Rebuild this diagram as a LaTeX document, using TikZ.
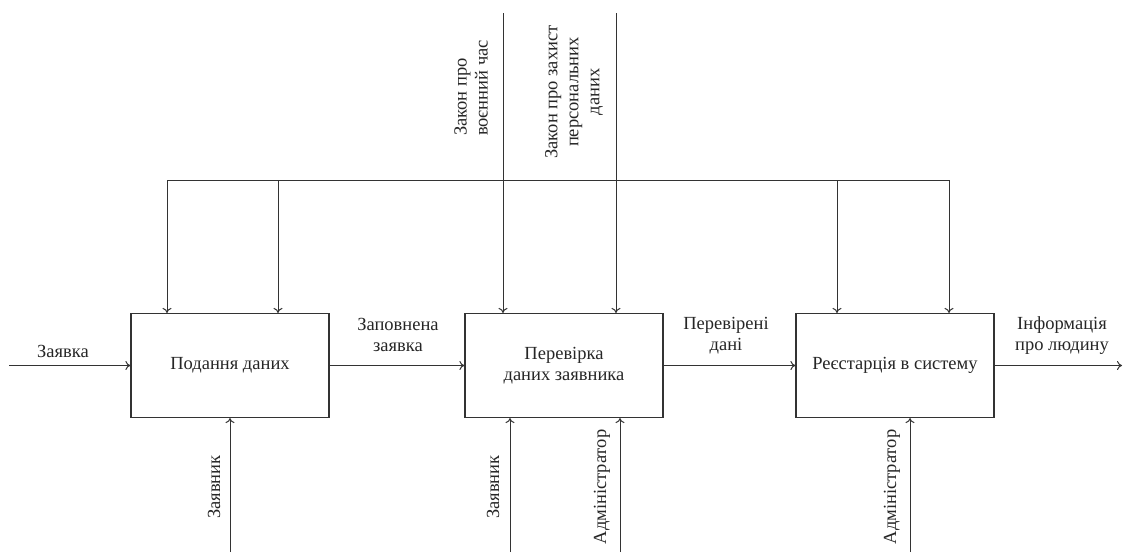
\documentclass[tikz,border=0pt]{standalone}
\usepackage{fontspec}
\setmainfont{Liberation Serif}
\usetikzlibrary{arrows.meta}
\begin{document}
\begin{tikzpicture}[x=1pt,y=-1pt,
  font=\rmfamily\fontsize{18.5}{21}\selectfont,
  line/.style={draw=black!80, line width=1pt},
  flow/.style={line, -{To[length=5pt,width=9pt]}},
  fn/.style={draw=black!80, line width=1.2pt, minimum width=198pt,
    minimum height=104pt, align=center, inner sep=0pt},
  lab/.style={align=center, inner sep=0pt, text=black!85},
  vlab/.style={lab, rotate=90}]
\useasboundingbox (0,0) rectangle (1129,552);

% functions
\node[fn, text=black!85] (b1) at (230,365.5) {Подання даних};
\node[fn, text=black!85] (b2) at (564,365.5) {Перевірка\\даних заявника};
\node[fn, text=black!85] (b3) at (895,365.5) {Реєстарція в систему};

% input and output
\coordinate (in) at (9,365.5);
\coordinate (out) at (1122,365.5);
\draw[flow] (in) -- (b1);
\draw[flow] (b1) -- (b2);
\draw[flow] (b2) -- (b3);
\draw[flow] (b3) -- (out);

\node[lab] (lin) at (63,351) {Заявка};
\node[lab] (l12) at (398,335) {Заповнена\\заявка};
\node[lab] (l23) at (726,336) {Перевірені\\дані};
\node[lab] (lout) at (1062,336) {Інформація\\про людину};

% controls
\coordinate (t1) at (503,13);
\coordinate (t2) at (616,13);
\coordinate (c1) at (167,180);
\coordinate (c2) at (278,180);
\coordinate (c5) at (837,180);
\coordinate (c6) at (949,180);
\draw[line] (c1) -- (c6);
\draw[flow] (t1) -- (t1 |- b2.north);
\draw[flow] (t2) -- (t2 |- b2.north);
\draw[flow] (c1) -- (c1 |- b1.north);
\draw[flow] (c2) -- (c2 |- b1.north);
\draw[flow] (c5) -- (c5 |- b3.north);
\draw[flow] (c6) -- (c6 |- b3.north);

\node[vlab, align=left] (law1) at (471,88) {Закон про\\воєнний час};
\node[vlab] (law2) at (574,92) {Закон про захист\\персональних\\даних};

% mechanisms
\coordinate (m1) at (230,552);
\coordinate (m2) at (510,552);
\coordinate (m3) at (620,552);
\coordinate (m4) at (910,552);
\draw[flow] (m1) -- (m1 |- b1.south);
\draw[flow] (m2) -- (m2 |- b2.south);
\draw[flow] (m3) -- (m3 |- b2.south);
\draw[flow] (m4) -- (m4 |- b3.south);

\node[vlab] (r1) at (214,487) {Заявник};
\node[vlab] (r2) at (493,487) {Заявник};
\node[vlab] (r3) at (602,487) {Адміністратор};
\node[vlab] (r4) at (892,487) {Адміністратор};
\end{tikzpicture}
\end{document}
